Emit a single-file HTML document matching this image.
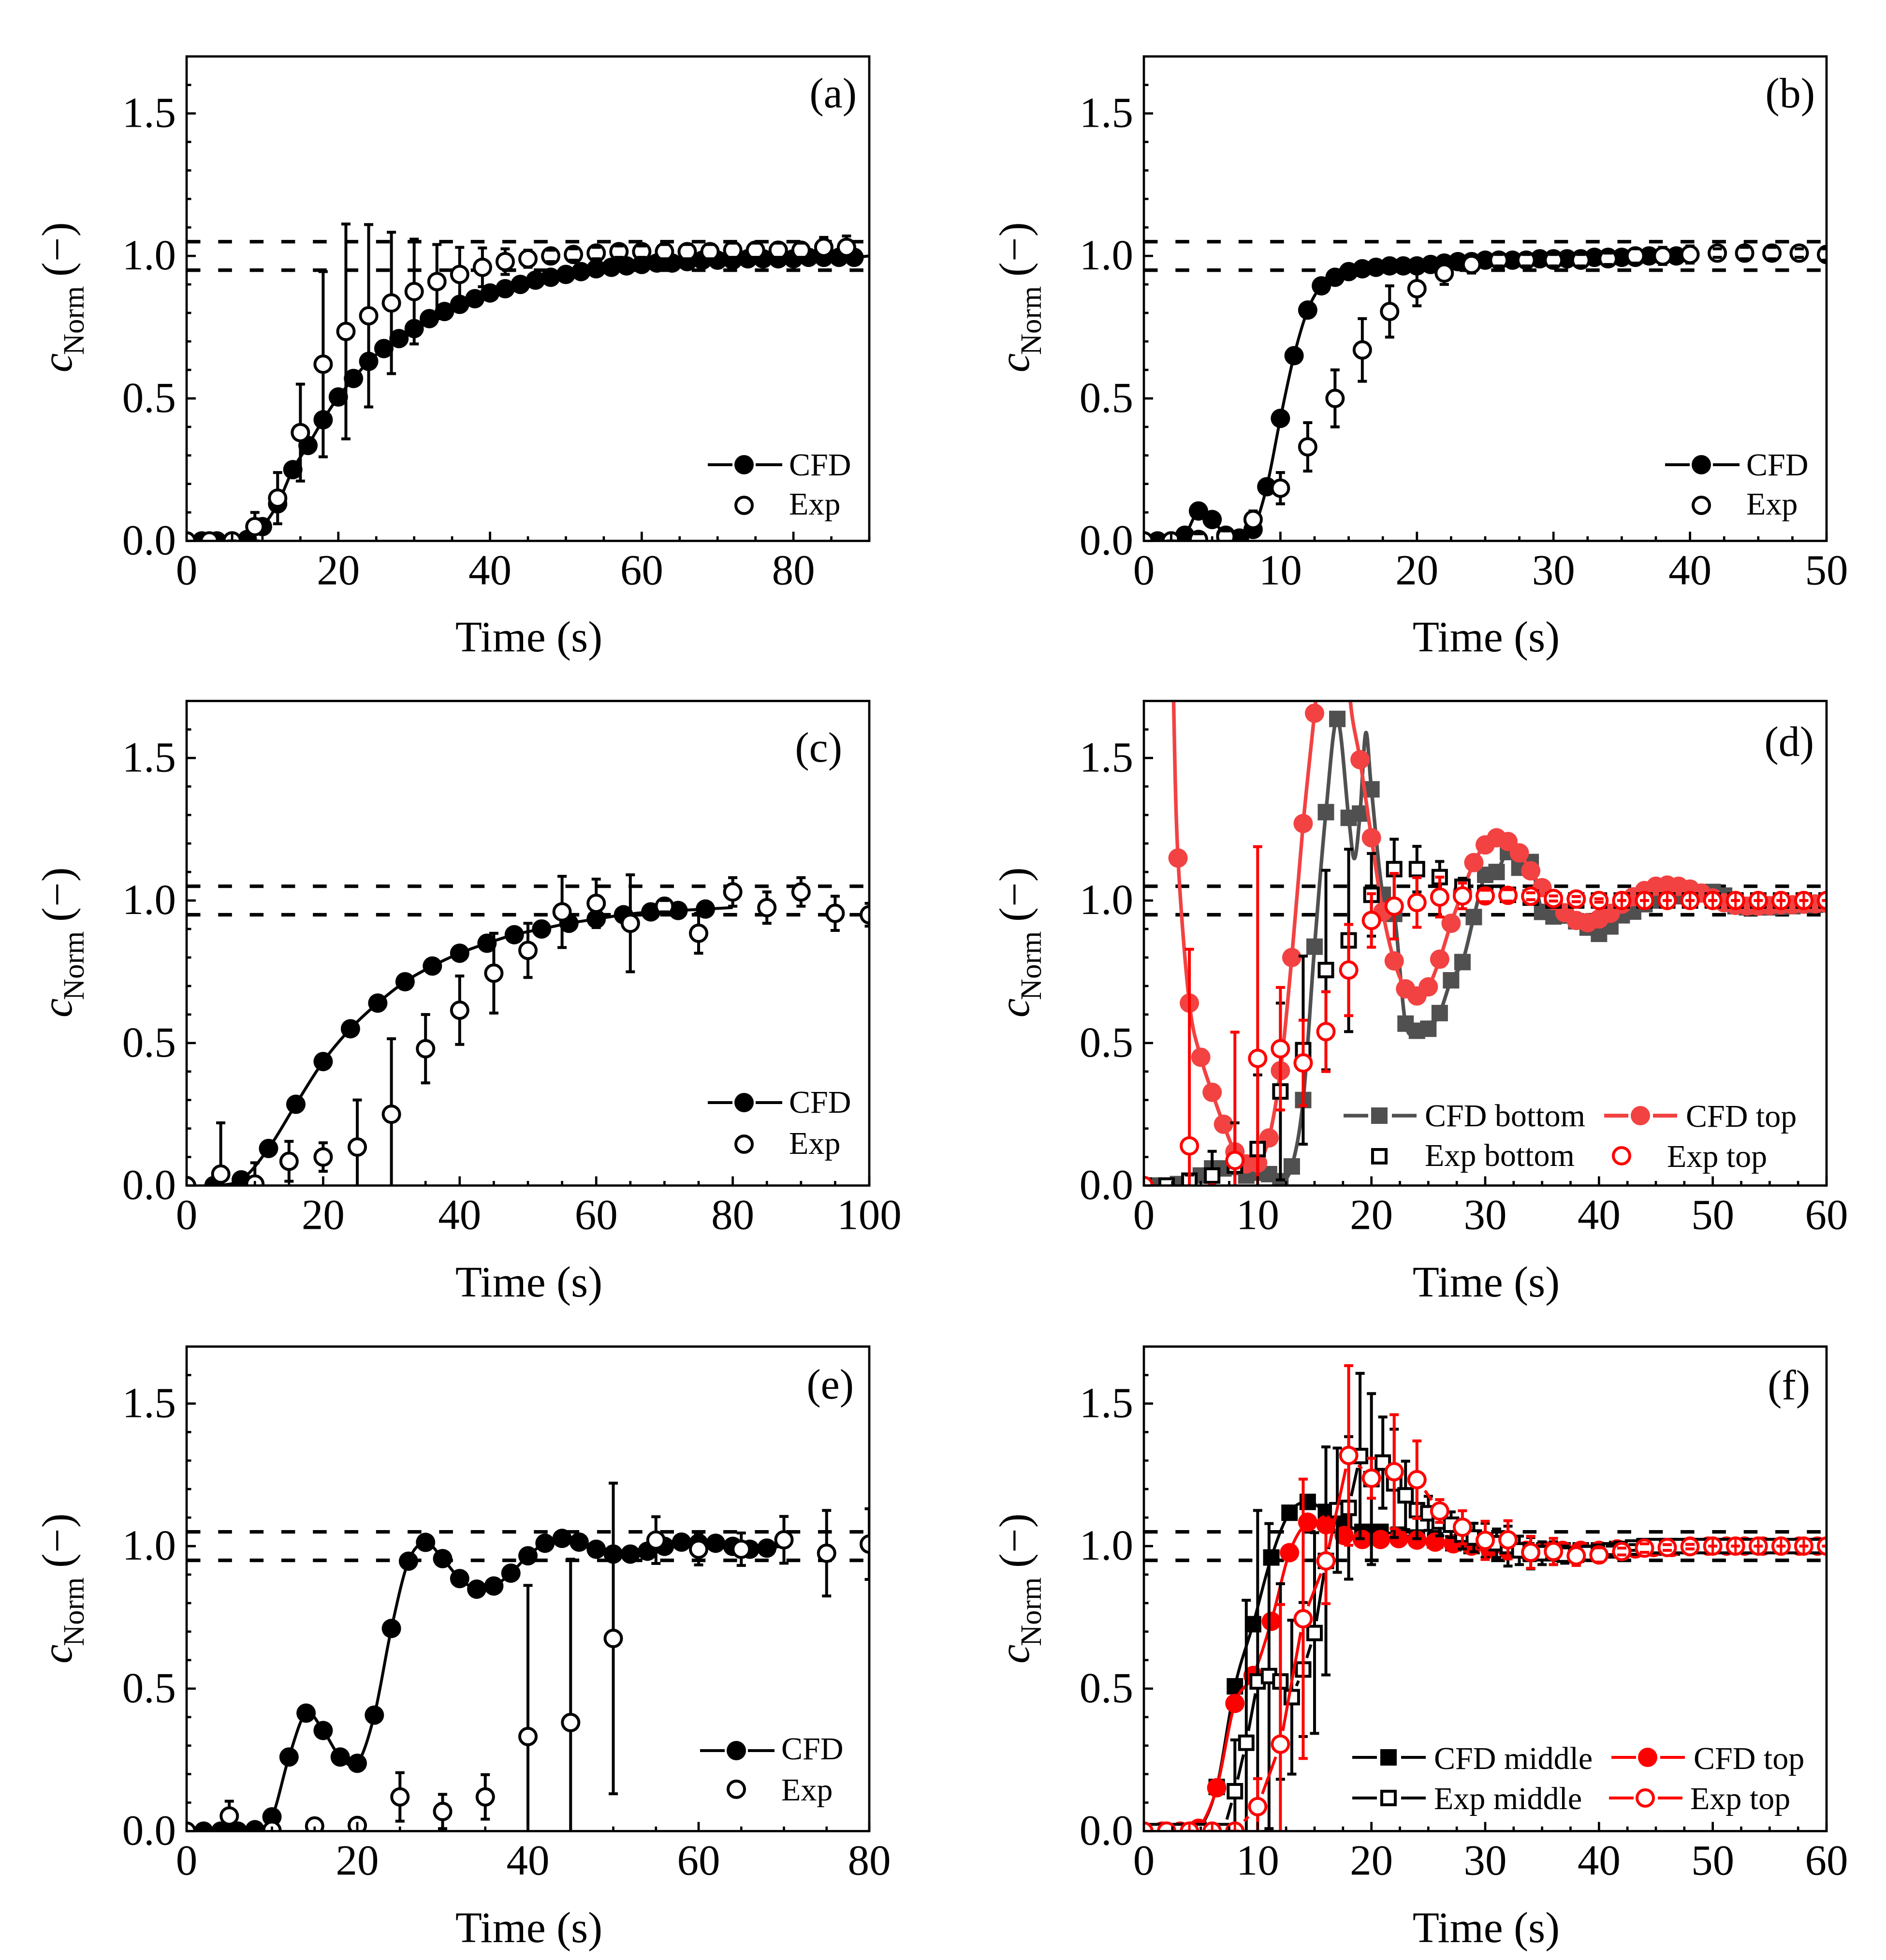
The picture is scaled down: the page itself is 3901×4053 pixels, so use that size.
<!DOCTYPE html>
<html lang="en">
<head>
<meta charset="utf-8">
<title>Normalised concentration versus time, panels a to f</title>
<style>
html,body{margin:0;padding:0;background:#fff;}
svg{display:block;}
text{font-family:"Liberation Serif","Times New Roman",serif;fill:#000;}
.tick{font-size:89px;}
.title{font-size:90px;}
.plabel{font-size:88px;}
.leg{font-size:66px;}
</style>
</head>
<body>
<svg id="figure" xmlns="http://www.w3.org/2000/svg" width="3901" height="4053" viewBox="0 0 3901 4053">
<rect x="0" y="0" width="3901" height="4053" fill="#fff"/>

<g id="panel-a"></g>
<g id="panel-b"></g>
<g id="panel-c"></g>
<g id="panel-d"></g>
<g id="panel-e"></g>
<g id="panel-f"></g>

<!-- axis titles -->
<text class="title" text-anchor="middle" x="1094" y="1347">Time (s)</text>
<text class="title" text-anchor="middle" x="3074" y="1347">Time (s)</text>
<text class="title" text-anchor="middle" x="1094" y="2681">Time (s)</text>
<text class="title" text-anchor="middle" x="3074" y="2681">Time (s)</text>
<text class="title" text-anchor="middle" x="1094" y="4016">Time (s)</text>
<text class="title" text-anchor="middle" x="3074" y="4016">Time (s)</text>

<text transform="translate(148,770) rotate(-90)" font-size="89"><tspan font-style="italic">c</tspan><tspan x="36" dy="25" font-size="61">Norm</tspan><tspan x="198" dy="-25" letter-spacing="1.5">(−)</tspan></text>
<text transform="translate(2128,770) rotate(-90)" font-size="89"><tspan font-style="italic">c</tspan><tspan x="36" dy="25" font-size="61">Norm</tspan><tspan x="198" dy="-25" letter-spacing="1.5">(−)</tspan></text>
<text transform="translate(148,2104) rotate(-90)" font-size="89"><tspan font-style="italic">c</tspan><tspan x="36" dy="25" font-size="61">Norm</tspan><tspan x="198" dy="-25" letter-spacing="1.5">(−)</tspan></text>
<text transform="translate(2128,2104) rotate(-90)" font-size="89"><tspan font-style="italic">c</tspan><tspan x="36" dy="25" font-size="61">Norm</tspan><tspan x="198" dy="-25" letter-spacing="1.5">(−)</tspan></text>
<text transform="translate(148,3440) rotate(-90)" font-size="89"><tspan font-style="italic">c</tspan><tspan x="36" dy="25" font-size="61">Norm</tspan><tspan x="198" dy="-25" letter-spacing="1.5">(−)</tspan></text>
<text transform="translate(2128,3440) rotate(-90)" font-size="89"><tspan font-style="italic">c</tspan><tspan x="36" dy="25" font-size="61">Norm</tspan><tspan x="198" dy="-25" letter-spacing="1.5">(−)</tspan></text>

<!-- panel labels -->
<text class="plabel" text-anchor="end" x="1772" y="222">(a)</text>
<text class="plabel" text-anchor="end" x="3754" y="222">(b)</text>
<text class="plabel" text-anchor="end" x="1742" y="1575">(c)</text>
<text class="plabel" text-anchor="end" x="3752" y="1563">(d)</text>
<text class="plabel" text-anchor="end" x="1766" y="2892">(e)</text>
<text class="plabel" text-anchor="end" x="3744" y="2894">(f)</text>

<!-- legend a -->
<g>
<line x1="1464" x2="1515" y1="961" y2="961" stroke="#000" stroke-width="6"/>
<line x1="1563" x2="1618" y1="961" y2="961" stroke="#000" stroke-width="6"/>
<circle cx="1539" cy="961" r="20" fill="#000"/>
<text class="leg" x="1632" y="983">CFD</text>
<circle cx="1539" cy="1045" r="17" fill="#fff" stroke="#000" stroke-width="6"/>
<text class="leg" x="1632" y="1064">Exp</text>
</g>
<!-- legend b -->
<g>
<line x1="3444" x2="3495" y1="961" y2="961" stroke="#000" stroke-width="6"/>
<line x1="3543" x2="3598" y1="961" y2="961" stroke="#000" stroke-width="6"/>
<circle cx="3519" cy="961" r="20" fill="#000"/>
<text class="leg" x="3612" y="983">CFD</text>
<circle cx="3519" cy="1045" r="17" fill="#fff" stroke="#000" stroke-width="6"/>
<text class="leg" x="3612" y="1064">Exp</text>
</g>
<!-- legend c -->
<g>
<line x1="1464" x2="1515" y1="2280" y2="2280" stroke="#000" stroke-width="6"/>
<line x1="1563" x2="1618" y1="2280" y2="2280" stroke="#000" stroke-width="6"/>
<circle cx="1539" cy="2280" r="20" fill="#000"/>
<text class="leg" x="1632" y="2301">CFD</text>
<circle cx="1539" cy="2366" r="17" fill="#fff" stroke="#000" stroke-width="6"/>
<text class="leg" x="1632" y="2386">Exp</text>
</g>
<!-- legend d -->
<g>
<line x1="2779" x2="2830" y1="2307" y2="2307" stroke="#505050" stroke-width="7.5"/>
<line x1="2879" x2="2930" y1="2307" y2="2307" stroke="#505050" stroke-width="7.5"/>
<rect x="2836" y="2290" width="34" height="34" fill="#505050"/>
<text class="leg" x="2947" y="2329">CFD bottom</text>
<rect x="2839" y="2377" width="28" height="28" fill="#fff" stroke="#000" stroke-width="6"/>
<text class="leg" x="2947" y="2411">Exp bottom</text>
<line x1="3318" x2="3368" y1="2307" y2="2307" stroke="#f24242" stroke-width="8"/>
<line x1="3419" x2="3469" y1="2307" y2="2307" stroke="#f24242" stroke-width="8"/>
<circle cx="3393" cy="2307" r="20" fill="#f24242"/>
<text class="leg" x="3487" y="2330">CFD top</text>
<circle cx="3354" cy="2390" r="17" fill="#fff" stroke="#f00" stroke-width="6"/>
<text class="leg" x="3448" y="2413">Exp top</text>
</g>
<!-- legend e -->
<g>
<line x1="1448" x2="1499" y1="3620" y2="3620" stroke="#000" stroke-width="6"/>
<line x1="1547" x2="1602" y1="3620" y2="3620" stroke="#000" stroke-width="6"/>
<circle cx="1523" cy="3620" r="20" fill="#000"/>
<text class="leg" x="1616" y="3638">CFD</text>
<circle cx="1523" cy="3700" r="17" fill="#fff" stroke="#000" stroke-width="6"/>
<text class="leg" x="1616" y="3723">Exp</text>
</g>
<!-- legend f -->
<g>
<line x1="2797" x2="2848" y1="3634" y2="3634" stroke="#000" stroke-width="6"/>
<line x1="2898" x2="2949" y1="3634" y2="3634" stroke="#000" stroke-width="6"/>
<rect x="2855" y="3617" width="34" height="34" fill="#000"/>
<text class="leg" x="2966" y="3658">CFD middle</text>
<line x1="2797" x2="2848" y1="3718" y2="3718" stroke="#000" stroke-width="6"/>
<line x1="2898" x2="2949" y1="3718" y2="3718" stroke="#000" stroke-width="6"/>
<rect x="2858" y="3704" width="28" height="28" fill="#fff" stroke="#000" stroke-width="6"/>
<text class="leg" x="2966" y="3741">Exp middle</text>
<line x1="3333" x2="3384" y1="3634" y2="3634" stroke="#f00" stroke-width="6"/>
<line x1="3434" x2="3485" y1="3634" y2="3634" stroke="#f00" stroke-width="6"/>
<circle cx="3408" cy="3634" r="20" fill="#f00"/>
<text class="leg" x="3503" y="3658">CFD top</text>
<line x1="3328" x2="3379" y1="3718" y2="3718" stroke="#f00" stroke-width="6"/>
<line x1="3429" x2="3480" y1="3718" y2="3718" stroke="#f00" stroke-width="6"/>
<circle cx="3403" cy="3718" r="17" fill="#fff" stroke="#f00" stroke-width="6"/>
<text class="leg" x="3496" y="3741">Exp top</text>
</g>
</svg>

<script>
/* ---------- shared axis data ---------- */
const yTickLabels = ['0.0','0.5','1.0','1.5'];
const bandLevels = [1.05, 0.95];

/* ---------- panel a ---------- */
const aCfdT = [2,4,6,8,10,12,14,16,18,20,22,24,26,28,30,32,34,36,38,40,42,44,46,48,50,52,54,56,58,60,62,64,66,68,70,72,74,76,78,80,82,84,86,88];
const aCfdV = [0,0,0,0.005,0.05,0.13,0.25,0.335,0.425,0.505,0.57,0.63,0.675,0.71,0.745,0.78,0.805,0.83,0.85,0.87,0.885,0.9,0.915,0.925,0.935,0.945,0.955,0.96,0.965,0.97,0.975,0.975,0.98,0.985,0.985,0.985,0.99,0.99,0.99,0.99,0.995,0.995,0.995,0.995];
const aCfdExtraT = [90];
const aCfdExtraV = [1.0];
const aExpT = [0,3,6,9,12,15,18,21,24,27,30,33,36,39,42,45,48,51,54,57,60,63,66,69,72,75,78,81,84,87];
const aExpV = [0,0,0,0.05,0.15,0.38,0.62,0.735,0.79,0.835,0.875,0.91,0.935,0.96,0.98,0.99,1.0,1.005,1.01,1.015,1.015,1.015,1.015,1.015,1.02,1.02,1.02,1.02,1.03,1.03];
const aExpE = [null,null,0,0.05,0.09,0.17,0.325,0.377,0.32,0.248,0.184,0.13,0.095,0.068,0.045,0.03,0.02,0.02,0.02,0.02,0.02,0.025,0.025,0.025,0.025,0.025,0.025,0.025,0.035,0.04];
const aXTicks = [0,20,40,60,80];

/* ---------- panel b ---------- */
const bCfdT = [0,1,2,3,4,5,6,7,8,9,10,11,12,13,14,15,16,17,18,19,20,21,22,23,24,25,26,27,28,29,30,31,32,33,34,35,36,37,38,39];
const bCfdV = [0,0,0,0.02,0.105,0.075,0.02,0.01,0.04,0.19,0.43,0.65,0.81,0.895,0.925,0.945,0.955,0.96,0.965,0.965,0.965,0.97,0.975,0.98,0.98,0.985,0.985,0.985,0.985,0.99,0.99,0.99,0.99,0.995,0.995,0.995,0.995,1.0,1.0,1.0];
const bExpT = [0,2,4,6,8,10,12,14,16,18,20,22,24,26,28,30,32,34,36,38,40,42,44,46,48,50];
const bExpV = [0,0,0.005,0.015,0.075,0.185,0.33,0.5,0.67,0.805,0.885,0.94,0.97,0.985,0.985,0.985,0.985,0.99,1.0,1.0,1.005,1.01,1.01,1.01,1.01,1.005];
const bExpE = [null,0,0.02,0.02,0.03,0.055,0.085,0.1,0.11,0.09,0.06,0.04,0.03,0.02,0.02,0.02,0.02,0.02,0.025,0.03,0.03,0.015,0.02,0.02,0.015,0.02];
const bXTicks = [0,10,20,30,40,50];

/* ---------- panel c ---------- */
const cCfdT = [4,8,12,16,20,24,28,32,36,40,44,48,52,56,60,64,68,72,76];
const cCfdV = [0,0.02,0.13,0.285,0.435,0.55,0.64,0.715,0.77,0.815,0.85,0.88,0.9,0.92,0.935,0.95,0.96,0.965,0.97];
const cCfdExtraT = [80];
const cCfdExtraV = [0.975];
const cExpT = [0,5,10,15,20,25,30,35,40,45,50,55,60,65,70,75,80,85,90,95,100];
const cExpV = [0,0.04,0.005,0.085,0.1,0.135,0.25,0.48,0.615,0.745,0.825,0.96,0.99,0.92,0.98,0.885,1.03,0.975,1.03,0.955,0.95];
const cExpE = [null,0.18,0.075,0.07,0.05,0.165,0.265,0.12,0.12,0.14,0.095,0.125,0.085,0.17,0.02,0.07,0.05,0.055,0.05,0.06,0.04];
const cXTicks = [0,20,40,60,80,100];

/* ---------- panel d ---------- */
const dBottomT = [1,2,3,4,5,6,7,8,9,10,11,12,13,14,15,16,17,18,19,20,21,22,23,24,25,26,27,28,29,30,31,32,33,34,35,36,37,38,39,40,41,42,43,44,45,46,47,48,49,50,51,52,53,54,55,56,57,58,59,60];
const dBottomV = [0,0,0.005,0.01,0.035,0.06,0.06,0.065,0.035,0.045,0.04,0.015,0.067,0.3,0.838,1.31,1.637,1.29,1.305,1.39,1.02,0.953,0.568,0.543,0.55,0.605,0.72,0.784,0.942,1.09,1.1,1.17,1.115,1.135,0.96,0.944,0.947,0.927,0.905,0.883,0.909,0.948,0.961,0.987,1.0,1.01,1.015,1.02,1.025,1.03,1.017,0.98,0.976,0.976,0.976,0.978,0.98,0.983,0.985,0.99];
const dBottomExtraT = [18.5,19.5];
const dBottomExtraV = [1.147,1.588];
const dTopT = [3,4,5,6,7,8,9,10,11,12,13,14,15,19,20,21,22,23,24,25,26,27,28,29,30,31,32,33,34,35,36,37,38,39,40,41,42,43,44,45,46,47,48,49,50,51,52,53,54,55,56,57,58,59,60];
const dTopV = [1.149,0.64,0.45,0.327,0.215,0.118,0.076,0.079,0.167,0.403,0.8,1.27,1.657,1.494,1.22,0.96,0.788,0.69,0.665,0.697,0.794,0.92,1.03,1.133,1.195,1.22,1.207,1.167,1.104,1.045,1.0,0.957,0.93,0.922,0.935,0.955,0.987,1.013,1.035,1.05,1.054,1.05,1.04,1.026,1.009,0.992,0.983,0.98,0.98,0.982,0.985,0.985,0.987,0.988,0.99];
const dTopExtraT = [2.2,2.6,15.2,16.5,17.5,18.1];
const dTopExtraV = [2.6,1.72,1.74,2.3,2.2,1.72];
const dExpBottomT = [0,2,4,6,8,10,12,14,16,18,20,22,24,26,28,30,32,34,36,38,40,42,44,46,48,50,52,54,56,58,60];
const dExpBottomV = [0,0,0.017,0.035,0.07,0.128,0.33,0.475,0.756,0.86,1.02,1.11,1.11,1.082,1.048,1.027,1.02,1.01,1.0,1.0,1.0,1.0,1.0,1.0,1.0,1.0,1.0,1.0,1.0,1.0,1.0];
const dExpBottomE = [null,null,0.02,0.085,0.15,0.26,0.31,0.33,0.35,0.32,0.145,0.105,0.08,0.055,0.03,0.02,0.015,0.01,0.01,null,null,null,null,null,null,null,null,null,null,null,null];
const dExpTopT = [0,2,4,6,8,10,12,14,16,18,20,22,24,26,28,30,32,34,36,38,40,42,44,46,48,50,52,54,56,58,60];
const dExpTopV = [0,-0.1,0.139,-0.026,0.088,0.446,0.48,0.43,0.54,0.756,0.93,0.98,0.993,1.012,1.016,1.016,1.018,1.015,1.007,1.005,1.0,1.0,1.0,1.0,1.0,1.0,1.0,1.0,1.0,1.0,1.0];
const dExpTopE = [null,null,0.69,null,0.45,0.743,0.215,0.15,0.14,0.16,0.094,0.115,0.087,0.07,0.045,0.02,0.02,0.012,0.009,0.009,0.006,0,0,0,0,0,0,0,0,0,0];
const dXTicks = [0,10,20,30,40,50,60];

/* ---------- panel e ---------- */
const eCfdT = [2,4,6,8,10,12,14,16,18,20,22,24,26,28,30,32,34,36,38,40,42,44,46,48,50,52,54,56,58,60,62,64,66,68];
const eCfdV = [0,0,0,0.005,0.05,0.26,0.414,0.353,0.26,0.238,0.407,0.711,0.947,1.013,0.956,0.886,0.849,0.86,0.905,0.966,1.01,1.027,1.014,0.989,0.972,0.972,0.982,0.999,1.014,1.01,1.01,0.999,0.989,0.993];
const eCfdExtraT = [70];
const eCfdExtraV = [1.0];
const eExpT = [0,5,10,15,20,25,30,35,40,45,50,55,60,65,70,75,80];
const eExpV = [0,0.053,0.003,0.018,0.02,0.12,0.069,0.12,0.332,0.381,0.676,1.021,0.989,0.989,1.022,0.975,1.007];
const eExpE = [null,0.052,null,null,null,0.085,0.06,0.078,0.53,0.573,0.545,0.082,0.055,0.057,0.082,0.15,0.124];
const eXTicks = [0,20,40,60,80];

/* ---------- panel f ---------- */
const fCfdT = [1.6,3.2,4.8,6.4,8,9.6,11.2,12.8,14.4,16,17.6,19.2,20.8,22.4,24,25.6,27.2,28.8,30.4,32,33.6,35.2,36.8,38.4,40,41.6,43.2,44.8,46.4,48,49.6,51.2,52.8,54.4,56,57.6,59.2];
const fMiddleV = [0,0,0.005,0.155,0.508,0.726,0.96,1.117,1.155,1.12,1.08,1.05,1.05,1.04,1.03,1.02,1.01,1.0,0.995,0.99,0.985,0.985,0.985,0.985,0.985,0.99,0.99,0.995,0.995,1.0,1.0,1.0,1.0,1.0,1.0,1.0,1.0];
const fTopV = [0,0,0.01,0.152,0.448,0.546,0.736,0.977,1.084,1.075,1.037,1.023,1.023,1.026,1.021,1.014,1.008,1.0,0.99,0.985,0.985,0.985,0.985,0.985,0.985,0.99,0.99,0.995,0.995,1.0,1.0,1.0,1.0,1.0,1.0,1.0,1.0];
const fExpMiddleT = [0,1,2,3,4,5,6,7,8,9,10,11,12,13,14,15,16,17,18,19,20,21,22,23,24,25,26,27,28,29,30,31,32,33,34,35,36,37,38,39,40,41,42,43,44,45,46,47,48,49,50,51,52,53,54,55,56,57,58,59,60];
const fExpMiddleV = [0,0,0,0,0,0,0,0,0.14,0.31,0.525,0.544,0.525,0.47,0.567,0.695,0.948,1.126,1.134,1.316,1.235,1.293,1.22,1.178,1.126,1.115,1.086,1.075,1.04,1.03,1.02,1.01,1.0,0.985,0.975,0.975,0.975,0.97,0.97,0.975,0.98,0.985,0.99,0.995,1.0,1.0,1.0,1.0,1.0,1.0,1.0,1.0,1.0,1.0,1.0,1.0,1.0,1.0,1.0,1.0,1.0];
const fExpMiddleE = [null,null,null,null,null,null,null,null,0.18,0.5,0.6,0.535,0.343,0.27,0.235,0.352,0.4,0.218,0.25,0.29,0.3,0.16,0.19,0.12,0.1,0.06,0.05,0.045,0.05,0.05,0.06,0.05,0.07,0.05,0.055,0.04,0.04,0.03,0.03,0.025,0.02,0.015,0.01,0.01,null,null,null,null,null,null,null,null,null,null,null,null,null,null,null,null,null];
const fExpTopT = [0,2,4,6,8,10,12,14,16,18,20,22,24,26,28,30,32,34,36,38,40,42,44,46,48,50,52,54,56,58,60];
const fExpTopV = [0,0,0,0,0,0.086,0.305,0.745,0.948,1.318,1.238,1.261,1.233,1.123,1.066,1.02,1.022,0.978,0.981,0.966,0.969,0.981,0.993,0.995,0.998,1.0,1.0,1.0,1.0,1.0,1.0];
const fExpTopE = [null,null,0,0,0,0.098,0.49,0.49,0.15,0.315,0.07,0.2,0.136,0.04,0.058,0.067,0.067,0.056,0.046,0.034,0.025,0.012,0.015,0.01,0.008,0,0,0,0,0,0];
const fXTicks = [0,10,20,30,40,50,60];

const BLACK = '#000', GREY = '#505050', SOFTRED = '#f24242', RED = '#f00';

const panels = [
 {id:'a',left:386,right:1798,top:116.7,bottom:1118.5,xMax:90,xTicks:aXTicks,xMinor:5,series:[
  {kind:'cfd',name:'cfd',t:aCfdT,v:aCfdV,xt:aCfdExtraT,xv:aCfdExtraV,shape:'circle',color:BLACK,lw:6},
  {kind:'exp',name:'exp',t:aExpT,v:aExpV,e:aExpE,shape:'circle',color:BLACK}]},
 {id:'b',left:2366,right:3778,top:116.7,bottom:1118.5,xMax:50,xTicks:bXTicks,xMinor:2.5,series:[
  {kind:'cfd',name:'cfd',t:bCfdT,v:bCfdV,shape:'circle',color:BLACK,lw:6},
  {kind:'exp',name:'exp',t:bExpT,v:bExpV,e:bExpE,shape:'circle',color:BLACK}]},
 {id:'c',left:386,right:1798,top:1449.5,bottom:2451.5,xMax:100,xTicks:cXTicks,xMinor:5,series:[
  {kind:'cfd',name:'cfd',t:cCfdT,v:cCfdV,xt:cCfdExtraT,xv:cCfdExtraV,shape:'circle',color:BLACK,lw:6},
  {kind:'exp',name:'exp',t:cExpT,v:cExpV,e:cExpE,shape:'circle',color:BLACK}]},
 {id:'d',left:2366,right:3778,top:1449.5,bottom:2451.5,xMax:60,xTicks:dXTicks,xMinor:2.5,series:[
  {kind:'cfd',name:'cfd-bottom',t:dBottomT,v:dBottomV,xt:dBottomExtraT,xv:dBottomExtraV,shape:'square',color:GREY,lw:7.5},
  {kind:'cfd',name:'cfd-top',t:dTopT,v:dTopV,xt:dTopExtraT,xv:dTopExtraV,shape:'circle',color:SOFTRED,lw:7.5},
  {kind:'exp',name:'exp-bottom',t:dExpBottomT,v:dExpBottomV,e:dExpBottomE,shape:'square',color:BLACK},
  {kind:'exp',name:'exp-top',t:dExpTopT,v:dExpTopV,e:dExpTopE,shape:'circle',color:RED}]},
 {id:'e',left:386,right:1798,top:2784.5,bottom:3786.5,xMax:80,xTicks:eXTicks,xMinor:5,series:[
  {kind:'cfd',name:'cfd',t:eCfdT,v:eCfdV,xt:eCfdExtraT,xv:eCfdExtraV,shape:'circle',color:BLACK,lw:6},
  {kind:'exp',name:'exp',t:eExpT,v:eExpV,e:eExpE,shape:'circle',color:BLACK}]},
 {id:'f',left:2366,right:3778,top:2784.5,bottom:3786.5,xMax:60,xTicks:fXTicks,xMinor:2.5,series:[
  {kind:'cfd',name:'cfd-middle',t:fCfdT,v:fMiddleV,shape:'square',color:BLACK,lw:6},
  {kind:'cfd',name:'cfd-top',t:fCfdT,v:fTopV,shape:'circle',color:RED,lw:6},
  {kind:'exp',name:'exp-middle',t:fExpMiddleT,v:fExpMiddleV,e:fExpMiddleE,shape:'square',color:BLACK,gapLine:true},
  {kind:'exp',name:'exp-top',t:fExpTopT,v:fExpTopV,e:fExpTopE,shape:'circle',color:RED,gapLine:true}]}
];

const SVGNS = 'http://www.w3.org/2000/svg';
function mk(tag, attrs, parent){
  const el = document.createElementNS(SVGNS, tag);
  for (const k in attrs) el.setAttribute(k, attrs[k]);
  parent.appendChild(el);
  return el;
}

function splinePath(pts){
  let d = 'M' + pts[0][0].toFixed(1) + ' ' + pts[0][1].toFixed(1);
  for (let i = 0; i < pts.length - 1; i++){
    const p0 = pts[Math.max(0,i-1)], p1 = pts[i], p2 = pts[i+1], p3 = pts[Math.min(pts.length-1,i+2)];
    const c1x = p1[0] + (p2[0]-p0[0])/6, c1y = p1[1] + (p2[1]-p0[1])/6;
    const c2x = p2[0] - (p3[0]-p1[0])/6, c2y = p2[1] - (p3[1]-p1[1])/6;
    d += 'C' + c1x.toFixed(1) + ' ' + c1y.toFixed(1) + ' ' + c2x.toFixed(1) + ' ' + c2y.toFixed(1) + ' ' + p2[0].toFixed(1) + ' ' + p2[1].toFixed(1);
  }
  return d;
}

function drawMarker(g, shape, open, color, cx, cy, label){
  let m;
  if (shape === 'circle'){
    m = open ? mk('circle',{cx:cx,cy:cy,r:17,fill:'#fff',stroke:color,'stroke-width':6},g)
             : mk('circle',{cx:cx,cy:cy,r:20,fill:color},g);
  } else {
    m = open ? mk('rect',{x:cx-14,y:cy-14,width:28,height:28,fill:'#fff',stroke:color,'stroke-width':6},g)
             : mk('rect',{x:cx-17,y:cy-17,width:34,height:34,fill:color},g);
  }
  
  
}

function drawCfd(s, g, X, Y){
  const merged = s.t.map((t,i)=>[t,s.v[i]]);
  (s.xt||[]).forEach((t,i)=>merged.push([t,s.xv[i]]));
  merged.sort((a,b)=>a[0]-b[0]);
  const pts = merged.map(p=>[X(p[0]),Y(p[1])]);
  const path = mk('path',{d:splinePath(pts),fill:'none',stroke:s.color,'stroke-width':s.lw},g);
  
  
  s.t.forEach((t,i)=>drawMarker(g,s.shape,false,s.color,X(t),Y(s.v[i]),s.name + '-point'));
}

function drawExp(s, g, X, Y){
  const trim = s.shape === 'circle' ? 28 : 25;
  if (s.gapLine){
    for (let i = 0; i < s.t.length - 1; i++){
      const x1 = X(s.t[i]), y1 = Y(s.v[i]), x2 = X(s.t[i+1]), y2 = Y(s.v[i+1]);
      const len = Math.hypot(x2-x1,y2-y1);
      if (len <= trim*2 + 4) continue;
      const ux = (x2-x1)/len, uy = (y2-y1)/len;
      const seg = mk('line',{x1:x1+ux*trim,y1:y1+uy*trim,x2:x2-ux*trim,y2:y2-uy*trim,stroke:s.color,'stroke-width':6},g);
      
      
    }
  }
  s.t.forEach((t,i)=>{
    const err = s.e[i];
    if (err === null || err === 0) return;
    const bar = mk('line',{x1:X(t),x2:X(t),y1:Y(s.v[i]+err),y2:Y(s.v[i]-err),stroke:s.color,'stroke-width':6},g);
    
    
  });
  s.t.forEach((t,i)=>drawMarker(g,s.shape,true,s.color,X(t),Y(s.v[i]),s.name + '-point'));
  s.t.forEach((t,i)=>{
    const err = s.e[i];
    if (err === null) return;
    const cx = X(t), cy = Y(s.v[i]);
    if (err === 0){
      const vb = mk('line',{x1:cx,x2:cx,y1:cy-15,y2:cy+15,stroke:s.color,'stroke-width':5},g);
      
      
      const hb = mk('line',{x1:cx-9.5,x2:cx+9.5,y1:cy,y2:cy,stroke:s.color,'stroke-width':6},g);
      
      
      return;
    }
    [s.v[i]+err, s.v[i]-err].forEach(val=>{
      const cap = mk('line',{x1:cx-9.5,x2:cx+9.5,y1:Y(val),y2:Y(val),stroke:s.color,'stroke-width':6},g);
      
      
    });
  });
}

function drawPanel(p){
  const root = document.getElementById('panel-' + p.id);
  const X = t => p.left + (t / p.xMax) * (p.right - p.left);
  const Y = v => p.bottom - (v / 1.7) * (p.bottom - p.top);

  const defs = mk('defs',{},root);
  const clip = mk('clipPath',{id:'clip-' + p.id},defs);
  mk('rect',{x:p.left,y:p.top,width:p.right-p.left,height:p.bottom-p.top},clip);

  const plot = mk('g',{'clip-path':'url(#clip-' + p.id + ')'},root);
  
  

  bandLevels.forEach(level=>{
    const band = mk('line',{x1:p.left,x2:p.right,y1:Y(level),y2:Y(level),stroke:'#000','stroke-width':7.3,'stroke-dasharray':'28.5 36.8'},plot);
    
    
  });

  p.series.forEach(s=>{
    const g = mk('g',{},plot);
    
    
    if (s.kind === 'cfd') drawCfd(s,g,X,Y); else drawExp(s,g,X,Y);
  });

  const axes = mk('g',{},root);
  
  

  for (let k = 0; k * 0.1 <= 1.65; k++){
    const major = k % 5 === 0;
    const yy = Y(k * 0.1);
    const tk = mk('line',{x1:p.left,x2:p.left + (major ? 19 : 9.5),y1:yy,y2:yy,stroke:'#000','stroke-width':4.7},axes);
    
    
  }
  for (let k = 0; k * p.xMinor <= p.xMax + 0.001; k++){
    const t = k * p.xMinor;
    const major = p.xTicks.includes(t);
    const tk = mk('line',{x1:X(t),x2:X(t),y1:p.bottom,y2:p.bottom - (major ? 19 : 9.5),stroke:'#000','stroke-width':4.7},axes);
    
    
  }

  const frame = mk('rect',{x:p.left,y:p.top,width:p.right-p.left,height:p.bottom-p.top,fill:'none',stroke:'#000','stroke-width':4.7},axes);
  
  

  yTickLabels.forEach(label=>{
    const t = mk('text',{class:'tick','text-anchor':'end',x:p.left - 22,y:Y(parseFloat(label)) + 28},axes);
    t.textContent = label;
    
    
  });
  p.xTicks.forEach(tv=>{
    const t = mk('text',{class:'tick','text-anchor':'middle',x:X(tv),y:p.bottom + 90},axes);
    t.textContent = String(tv);
    
    
  });
}

panels.forEach(drawPanel);
</script>
</body>
</html>
